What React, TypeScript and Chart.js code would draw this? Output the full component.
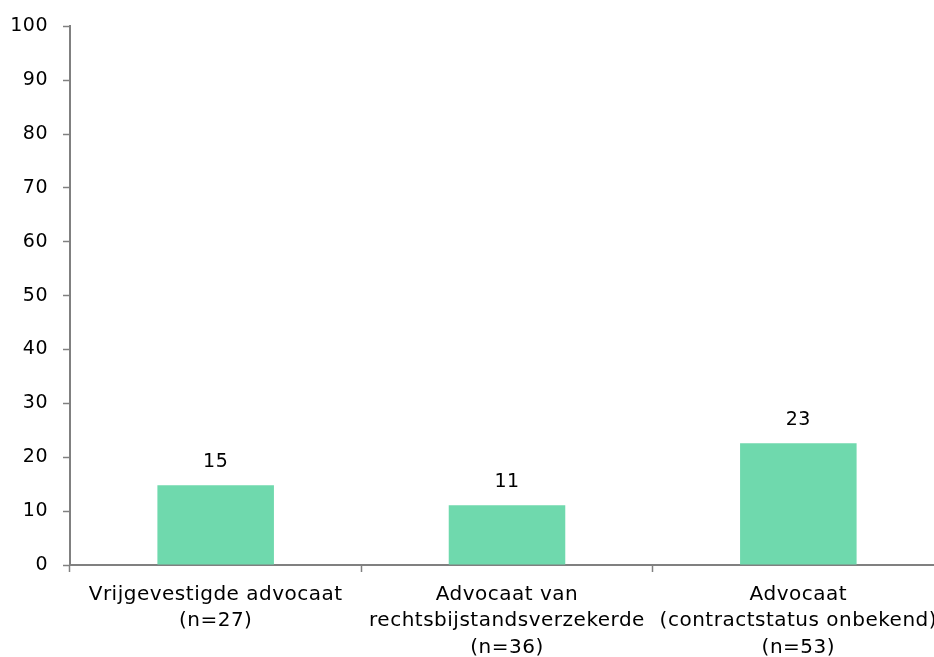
import React, { useEffect, useRef } from "react";
import { Chart, registerables } from "chart.js";

Chart.register(...registerables);

const categories: string[][] = [
  ["Vrijgevestigde advocaat", "(n=27)"],
  ["Advocaat van", "rechtsbijstandsverzekerde", "(n=36)"],
  ["Advocaat", "(contractstatus onbekend)", "(n=53)"],
];
const values: number[] = [14.8, 11.1, 22.6];
const valueLabels: string[] = ["15", "11", "23"];
const yTicks: number[] = [0, 10, 20, 30, 40, 50, 60, 70, 80, 90, 100];

const FONT = "'DejaVu Sans', Verdana, sans-serif";
const AXIS = "#808080";

const spacingPlugin = {
  id: "spacing",
  beforeDraw(chart: any) {
    (chart.ctx as any).letterSpacing = "0.5px";
  },
};

const valueLabelPlugin = {
  id: "valueLabels",
  afterDatasetsDraw(chart: any) {
    const ctx = chart.ctx;
    const meta = chart.getDatasetMeta(0);
    ctx.save();
    ctx.font = `19px ${FONT}`;
    ctx.fillStyle = "#000";
    ctx.textAlign = "center";
    ctx.textBaseline = "middle";
    meta.data.forEach((el: any, i: number) => {
      ctx.fillText(valueLabels[i], el.x, el.y - 23);
    });
    ctx.restore();
  },
};

export default function App() {
  const ref = useRef<HTMLCanvasElement>(null);
  useEffect(() => {
    if (!ref.current) return;
    const chart = new Chart(ref.current, {
      type: "bar",
      data: {
        labels: categories,
        datasets: [
          {
            data: values,
            backgroundColor: "#6FD9AD",
            borderWidth: 0,
            barPercentage: 0.4,
            categoryPercentage: 1,
          },
        ],
      },
      options: {
        animation: false,
        responsive: false,
        maintainAspectRatio: false,
        layout: { padding: { top: 23, right: 16, left: 0, bottom: 0 } },
        plugins: { legend: { display: false }, tooltip: { enabled: false } },
        scales: {
          x: {
            grid: {
              display: true,
              drawOnChartArea: false,
              drawTicks: true,
              tickLength: 7,
              tickWidth: 1.5,
              color: AXIS,
              offset: true,
            },
            border: { display: true, color: AXIS, width: 2 },
            ticks: {
              color: "#000",
              font: { family: FONT, size: 20, lineHeight: 1.33 },
              padding: 9,
              maxRotation: 0,
              autoSkip: false,
            },
            afterFit(scale: any) {
              scale.height = 657 - 565;
            },
          },
          y: {
            min: 0,
            max: 100,
            afterBuildTicks(scale: any) {
              scale.ticks = yTicks.map((v) => ({ value: v }));
            },
            grid: {
              display: true,
              drawOnChartArea: false,
              drawTicks: true,
              tickLength: 7,
              tickWidth: 1.5,
              color: AXIS,
            },
            border: { display: true, color: AXIS, width: 2 },
            ticks: {
              color: "#000",
              font: { family: FONT, size: 19 },
              padding: 15,
            },
            afterFit(scale: any) {
              scale.width = 70;
            },
          },
        },
      },
      plugins: [spacingPlugin, valueLabelPlugin],
    });
    return () => chart.destroy();
  }, []);
  return (
    <div
      style={{
        position: "fixed",
        left: 0,
        top: 0,
        width: 934,
        height: 657,
        overflow: "hidden",
        background: "#fff",
      }}
    >
      <canvas ref={ref} width={960} height={657} style={{ display: "block" }} />
    </div>
  );
}
